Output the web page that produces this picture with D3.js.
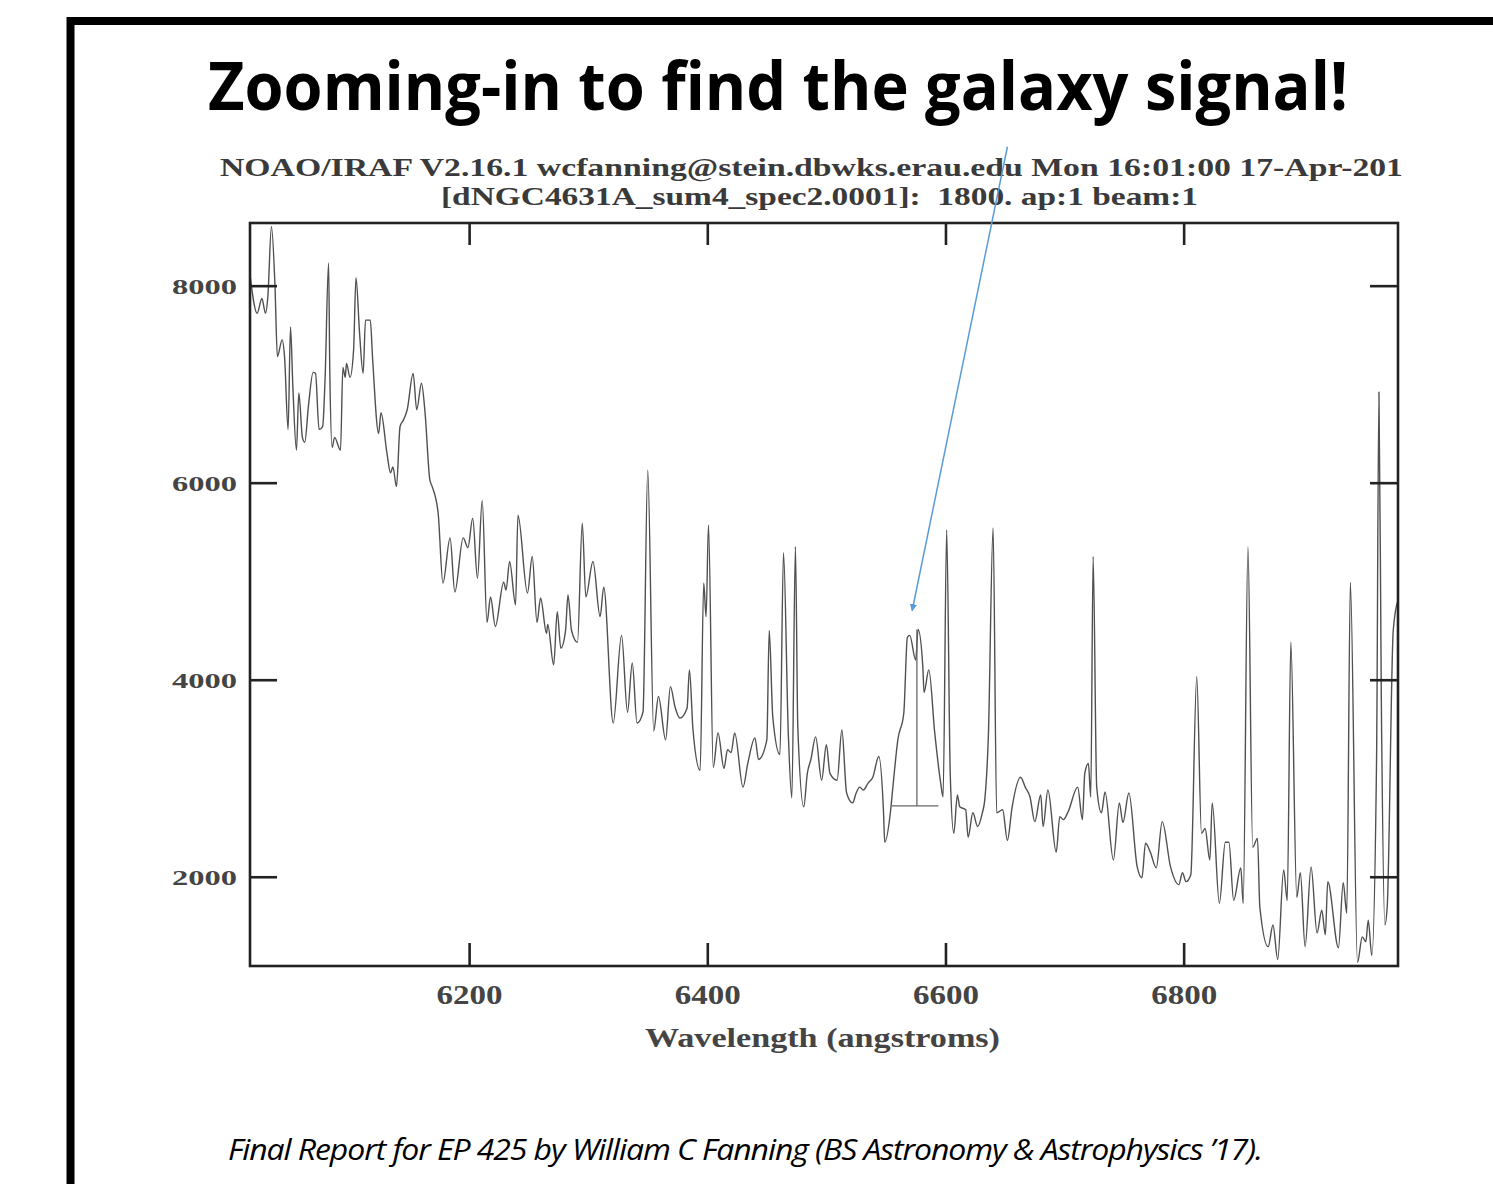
<!DOCTYPE html>
<html>
<head>
<meta charset="utf-8">
<script src="https://cdn.jsdelivr.net/npm/d3@7"></script>
<style>
  body { margin: 0; background: #fff; }
  svg { display: block; }
</style>
</head>
<body>
<svg id="chart" width="1493" height="1184"></svg>
<script>
// spectrum
const wavelength = [6016,6022,6026,6029,6031,6034,6037,6039,6043,6045,6048,6050,6052,6055,6057,6060,6062,6065,6069,6071,6074,6077,6079,6082,6083,6085,6087,6092,6094,6096,6097,6100,6103,6105,6108,6111,6113,6117,6119,6124,6126,6131,6134,6136,6139,6142,6145,6148,6153,6156,6160,6163,6167,6169,6174,
  6178,6184,6188,6195,6199,6203,6207,6211,6215,6218,6222,6229,6231,6234,6239,6241,6249,6253,6257,6260,6265,6266,6271,6274,6277,6281,6283,6286,6291,6295,6298,6304,6310,6313,
  6321,6328,6333,6337,6341,6346,6350,6355,6359,6365,6369,6373,6377,6383,6385,6388,6394,6397,6399,6401,6405,6409,6414,6417,6420,6423,6430,6434,6440,6443,6450,6452,6455,6461,6464,6468,6471,6474,6476,6481,6484,6487,6491,6496,6500,6503,6509,6513,6517,6522,6525,6528,6531,6535,6539,6544,6548,6549,6554,6556,6560,6565,6568,6570,6575,6577,6581,6582,6586,6591,6596,6598,6601,6604,6607,6610,6612,6617,6619,6623,6627,6631,6633,6636,6640,6643,6648,6652,6656,6663,
  6667,6671,6675,6680,6682,6686,6693,6696,6699,6703,6711,6715,6717,6720,6722,6724,6727,6731,6734,6741,6746,6749,6754,6761,6765,6768,6772,6777,6782,6789,6796,6799,6802,6806,6811,6815,6818,6822,6824,6830,6835,6838,6842,6848,6850,6854,6858,6862,6864,6871,6875,6879,6884,6887,6890,6895,6898,6902,6907,6912,6916,6919,6921,6930,6934,6937,6940,6946,6950,6953,6955,6958,6962,6964,6966,6969,6971,6976,6980];

const flux = [8110,7720,7870,7720,7890,8600,7990,7280,7450,7280,6540,7580,6970,6330,6910,6460,6410,6770,7120,7110,6540,6570,7040,8230,7140,6360,6460,6330,7170,7070,7210,7070,7350,8080,7520,7110,7650,7650,7250,6500,6710,6300,6100,6160,5960,6570,6640,6740,7110,6740,7010,6710,6030,5960,5690,
  4980,5440,4890,5440,5340,5640,5030,5820,4580,4840,4540,4990,4910,5200,4760,5670,4880,5250,4580,4830,4470,4560,4150,4690,4320,4500,4860,4500,4380,5590,4840,5200,4640,4940,
  3560,4450,3670,4170,3560,3670,6130,3480,3830,3390,3930,3720,3610,3710,4100,3490,3080,4980,4640,5570,3110,3460,3100,3290,3260,3460,2910,3150,3410,3190,3390,4500,3620,3240,5290,3460,2800,5350,3520,2710,3050,3190,3420,2980,3340,3050,2980,3490,2850,2750,2850,2910,2880,2950,3010,3220,2650,2350,2680,2930,3390,3660,4430,4450,4200,4510,4130,3870,4100,3460,2950,2810,5520,3050,2440,2830,2710,2680,2400,2650,2510,2650,2780,3420,5540,2650,2680,2370,2710,3010,
  2910,2810,2560,2830,2510,2880,2250,2610,2580,2660,2910,2580,3050,3150,2810,5250,2910,2650,2860,2170,2750,2550,2850,2100,1990,2340,2250,2090,2560,2100,1920,2040,1950,2020,4030,2440,2490,2170,2750,1730,2350,2350,1760,2090,1730,5350,2300,2390,1690,1290,1510,1160,2070,1760,4380,1790,2040,1290,2100,1430,1660,1410,1950,1280,1940,1630,4990,1130,1390,1340,1560,1200,3190,6920,3790,1510,1710,4500,4810];

const xTicks = [6200, 6400, 6600, 6800];
const yTicks = [2000, 4000, 6000, 8000];

// splot measurement marker on the H-alpha bump: [wl left, wl centre, wl right], [continuum, peak]
const markerWl = [6555, 6576, 6594];
const markerFlux = [2720, 4510];

// blue annotation arrow, from the header down to the bump
const arrowFrom = [6652, 9410];
const arrowTo = [6572, 4700];

const titleText = 'Zooming-in to find the galaxy signal!';
const headerLines = [
  'NOAO/IRAF V2.16.1 wcfanning@stein.dbwks.erau.edu Mon 16:01:00 17-Apr-201',
  '[dNGC4631A_sum4_spec2.0001]:  1800. ap:1 beam:1'
];
const xLabel = 'Wavelength (angstroms)';
const footerText = 'Final Report for EP 425 by William C Fanning (BS Astronomy & Astrophysics \u201917).';

const svg = d3.select('#chart');
const plot = { left: 250, right: 1398, top: 223, bottom: 966 };

const x = d3.scaleLinear().domain([6016, 6980]).range([plot.left, plot.right]);
const y = d3.scaleLinear().domain([1094, 8636]).range([plot.bottom, plot.top]);

const serif = '"Liberation Serif", "DejaVu Serif", serif';

svg.append('rect').attr('width', 1493).attr('height', 1184).attr('fill', '#fff');

// slide frame
svg.append('rect')
  .attr('x', 70.5).attr('y', 21)
  .attr('width', 1500).attr('height', 1200)
  .attr('fill', 'none')
  .attr('stroke', '#000')
  .attr('stroke-width', 8);

svg.append('text')
  .attr('x', 208).attr('y', 110)
  .attr('textLength', 1140)
  .attr('lengthAdjust', 'spacingAndGlyphs')
  .style('font-family', '"Open Sans", "Noto Sans", sans-serif')
  .style('font-weight', 700)
  .style('font-size', '66px')
  .attr('fill', '#000')
  .text(titleText);

const headerPos = [
  { x: 220, y: 176, len: 1183 },
  { x: 441, y: 205, len: 757 }
];
svg.selectAll('.header')
  .data(headerLines)
  .enter()
  .append('text')
  .attr('class', 'header')
  .attr('x', (d, i) => headerPos[i].x)
  .attr('y', (d, i) => headerPos[i].y)
  .attr('textLength', (d, i) => headerPos[i].len)
  .attr('lengthAdjust', 'spacingAndGlyphs')
  .style('font-family', serif)
  .style('font-size', '25px')
  .style('font-weight', 700)
  .style('white-space', 'pre')
  .attr('fill', '#3a3a3a')
  .text(d => d);

svg.append('defs')
  .append('clipPath').attr('id', 'clip')
  .append('rect')
  .attr('x', plot.left).attr('y', plot.top)
  .attr('width', plot.right - plot.left).attr('height', plot.bottom - plot.top);

const points = wavelength.map((w, i) => [w, flux[i]]);

const line = d3.line()
  .curve(d3.curveMonotoneX)
  .x(d => x(d[0]))
  .y(d => y(d[1]));

svg.append('path')
  .datum(points)
  .attr('clip-path', 'url(#clip)')
  .attr('d', line)
  .attr('fill', 'none')
  .attr('stroke', '#505050')
  .attr('stroke-width', 1.4)
  .attr('stroke-linejoin', 'round');

// measurement marker
const mark = svg.append('g')
  .attr('stroke', '#666')
  .attr('stroke-width', 1.3);
mark.append('line')
  .attr('x1', x(markerWl[0])).attr('x2', x(markerWl[2]))
  .attr('y1', y(markerFlux[0])).attr('y2', y(markerFlux[0]));
mark.append('line')
  .attr('x1', x(markerWl[1])).attr('x2', x(markerWl[1]))
  .attr('y1', y(markerFlux[0])).attr('y2', y(markerFlux[1]));

// axes, ticks pointing inward on all four sides
const axisStyle = g => {
  g.select('.domain').remove();
  g.selectAll('.tick line').attr('stroke', '#222').attr('stroke-width', 2.6);
};

svg.append('g')
  .attr('transform', `translate(0,${plot.bottom})`)
  .call(d3.axisBottom(x).tickValues(xTicks).tickSize(-23).tickFormat(d3.format('d')))
  .call(axisStyle)
  .call(g => g.selectAll('.tick text')
    .attr('y', 38).attr('dy', 0)
    .attr('textLength', 66)
    .attr('lengthAdjust', 'spacingAndGlyphs')
    .style('font-family', serif)
    .style('font-weight', 700)
    .style('font-size', '28px')
    .attr('fill', '#444'));

svg.append('g')
  .attr('transform', `translate(0,${plot.top})`)
  .call(d3.axisTop(x).tickValues(xTicks).tickSize(-22).tickFormat(''))
  .call(axisStyle);

svg.append('g')
  .attr('transform', `translate(${plot.left},0)`)
  .call(d3.axisLeft(y).tickValues(yTicks).tickSize(-27).tickFormat(d3.format('d')))
  .call(axisStyle)
  .call(g => g.selectAll('.tick text')
    .attr('x', -13).attr('dy', '0.36em')
    .attr('textLength', 65)
    .attr('lengthAdjust', 'spacingAndGlyphs')
    .style('font-family', serif)
    .style('font-weight', 700)
    .style('font-size', '22px')
    .attr('fill', '#444'));

svg.append('g')
  .attr('transform', `translate(${plot.right},0)`)
  .call(d3.axisRight(y).tickValues(yTicks).tickSize(-28).tickFormat(''))
  .call(axisStyle);

svg.append('rect')
  .attr('x', plot.left).attr('y', plot.top)
  .attr('width', plot.right - plot.left).attr('height', plot.bottom - plot.top)
  .attr('fill', 'none')
  .attr('stroke', '#222')
  .attr('stroke-width', 2.6);

svg.append('text')
  .attr('x', 645).attr('y', 1047)
  .attr('textLength', 355)
  .attr('lengthAdjust', 'spacingAndGlyphs')
  .style('font-family', serif)
  .style('font-weight', 700)
  .style('font-size', '28px')
  .attr('fill', '#444')
  .text(xLabel);

// arrow
svg.select('defs').append('marker')
  .attr('id', 'head')
  .attr('viewBox', '0 0 10 10')
  .attr('refX', 9).attr('refY', 5)
  .attr('markerWidth', 5).attr('markerHeight', 5)
  .attr('orient', 'auto')
  .append('path')
  .attr('d', 'M0,0L10,5L0,10z')
  .attr('fill', '#5b9bd5');

svg.append('line')
  .attr('x1', x(arrowFrom[0])).attr('y1', y(arrowFrom[1]))
  .attr('x2', x(arrowTo[0])).attr('y2', y(arrowTo[1]))
  .attr('stroke', '#5b9bd5')
  .attr('stroke-width', 1.5)
  .attr('marker-end', 'url(#head)');

svg.append('text')
  .attr('x', 228).attr('y', 1160)
  .attr('textLength', 1034)
  .attr('lengthAdjust', 'spacingAndGlyphs')
  .style('font-family', '"Open Sans", "Noto Sans", sans-serif')
  .style('font-style', 'italic')
  .style('font-size', '30px')
  .style('letter-spacing', '-1px')
  .attr('fill', '#000')
  .text(footerText);
</script>
</body>
</html>
